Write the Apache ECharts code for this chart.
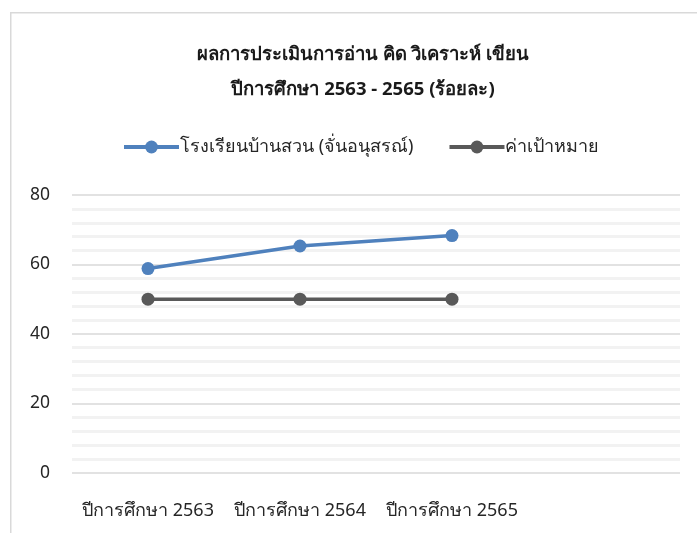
<!DOCTYPE html>
<html><head><meta charset="utf-8">
<script src="https://cdn.jsdelivr.net/npm/echarts@6/dist/echarts.min.js"></script>
<style>html,body{margin:0;padding:0;background:#fff}#c{width:697px;height:533px}</style>
</head><body><div id="c"></div>
<script>
const titleLines = ['ผลการประเมินการอ่าน คิด วิเคราะห์ เขียน', 'ปีการศึกษา 2563 - 2565 (ร้อยละ)'];
const categories = ['ปีการศึกษา 2563', 'ปีการศึกษา 2564', 'ปีการศึกษา 2565', ''];
const schoolName = 'โรงเรียนบ้านสวน (จั่นอนุสรณ์)';
const schoolValues = [58.8, 65.3, 68.3];
const targetName = 'ค่าเป้าหมาย';
const targetValues = [50, 50, 50];
const yTicks = [0, 20, 40, 60, 80];

const FONT = "'Noto Sans', 'DejaVu Sans', sans-serif";
const chart = echarts.init(document.getElementById('c'));
chart.setOption({
  animation: false,
  textStyle: { fontFamily: FONT },
  graphic: [{
    type: 'rect', left: 10, top: 12, z: -1,
    shape: { width: 700, height: 540 },
    style: { fill: '#fff', stroke: '#d9d9d9', lineWidth: 1.5 }
  }],
  title: {
    text: titleLines.join('\n'),
    left: 358, top: 32, textAlign: 'center',
    textStyle: { fontSize: 18.5, fontWeight: 'bold', color: '#1a1a1a', lineHeight: 35, fontFamily: FONT }
  },
  legend: {
    top: 133, left: 117, itemGap: 34, itemWidth: 55, itemHeight: 16,
    lineStyle: { width: 4 },
    textStyle: { fontSize: 18, color: '#262626', fontFamily: FONT, padding: [0, 0, 0, -4] },
    data: [schoolName, targetName]
  },
  grid: { left: 72, right: 17, top: 195, bottom: 60.3, containLabel: false },
  xAxis: {
    type: 'category', data: categories, boundaryGap: true,
    axisLine: { show: false }, axisTick: { show: false },
    axisLabel: { fontSize: 18, color: '#262626', margin: 29, interval: 0, fontFamily: FONT }
  },
  yAxis: {
    type: 'value', min: yTicks[0], max: yTicks[yTicks.length - 1], interval: 20,
    axisLine: { show: false }, axisTick: { show: false },
    axisLabel: { fontSize: 17.5, color: '#262626', margin: 22, fontFamily: FONT },
    splitLine: { lineStyle: { color: '#d9d9d9', width: 1.5 } },
    minorTick: { show: false, splitNumber: 5 },
    minorSplitLine: { show: true, lineStyle: { color: '#f2f2f2', width: 3 } }
  },
  series: [
    { name: schoolName, type: 'line', data: schoolValues, symbol: 'circle', symbolSize: 13,
      itemStyle: { color: '#4f81bd' }, lineStyle: { color: '#4f81bd', width: 3.5 } },
    { name: targetName, type: 'line', data: targetValues, symbol: 'circle', symbolSize: 13,
      itemStyle: { color: '#595959' }, lineStyle: { color: '#595959', width: 3.5 } }
  ]
});
</script></body></html>
